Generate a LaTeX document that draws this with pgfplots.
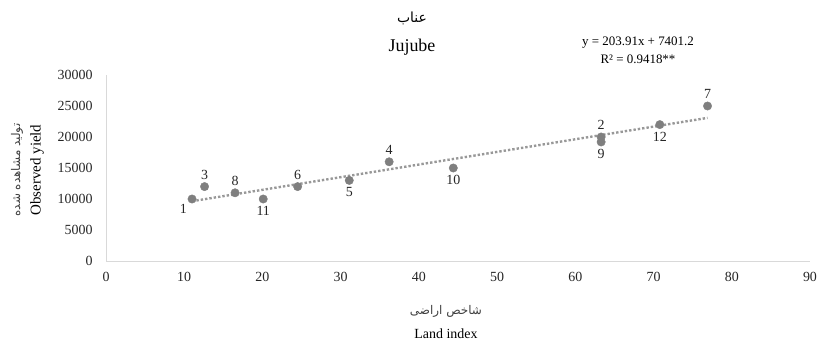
\documentclass[border=0pt]{standalone}
\usepackage{fontspec}
\setmainfont{Liberation Serif}
\newfontfamily\arabicfont[Script=Arabic]{DejaVu Sans}
\TeXXeTstate=1
\usepackage{pgfplots}
\usepackage{pgfplotstable}
\pgfplotsset{compat=1.18}
\definecolor{ptgray}{HTML}{7F7F7F}
\definecolor{axgray}{HTML}{D9D9D9}
\pgfplotstableread{
x y lab
12.6 12000 3
16.5 11000 8
24.5 12000 6
36.2 16000 4
63.3 20000 2
76.9 25000 7
}\abovetable
\pgfplotstableread{
x y lab
20.1 10000 11
31.1 13000 5
44.4 15000 10
63.3 19200 9
70.8 22000 12
}\belowtable
\pgfplotstableread{
x y lab
11.0 10000 1
}\lefttable
\pgfplotstableread{
x y
11.0 9644.2
76.9 23082.2
}\trendtable
\begin{document}
\begin{tikzpicture}
\useasboundingbox (0,0) rectangle (818bp,345bp);
\begin{axis}[
  at={(106bp,84bp)}, anchor=south west,
  scale only axis, width=704bp, height=186bp,
  xmin=0, xmax=90, ymin=0, ymax=30000,
  xtick={0,10,...,90}, ytick={0,5000,...,30000},
  axis x line*=bottom, axis y line*=left,
  axis line style={draw=axgray, line width=1pt},
  major tick length=0pt,
  tick label style={font=\fontsize{14}{16}\selectfont, text=black!85},
  /pgf/number format/assume math mode=true,
  /pgf/number format/1000 sep={},
  scaled y ticks=false,
  xticklabel style={yshift=-8bp},
  yticklabel style={xshift=-10bp},
  clip=false,
  ptstyle/.style={only marks, mark=*, mark size=4.2bp, mark options={draw=ptgray, fill=ptgray},
    point meta=explicit symbolic, nodes near coords={\pgfplotspointmeta}},
]
\addplot[ptgray!80, line width=2.4pt, dotted] table[x=x,y=y] {\trendtable};
\addplot[ptstyle, every node near coord/.append style={anchor=south, inner sep=7bp, font=\fontsize{14}{16}\selectfont, text=black!85}]
  table[x=x, y=y, meta=lab] {\abovetable};
\addplot[ptstyle, every node near coord/.append style={anchor=north, inner sep=7bp, font=\fontsize{14}{16}\selectfont, text=black!85}]
  table[x=x, y=y, meta=lab] {\belowtable};
\addplot[ptstyle, every node near coord/.append style={anchor=north east, inner sep=5bp, font=\fontsize{14}{16}\selectfont, text=black!85}]
  table[x=x, y=y, meta=lab] {\lefttable};
\end{axis}
\node[font=\fontsize{14}{16}\selectfont] at (412bp,327bp) {\arabicfont\beginR عناب\endR};
\node[font=\fontsize{18}{20}\selectfont] at (412bp,298bp) {Jujube};
\node[font=\fontsize{13}{15}\selectfont] at (638bp,302bp) {y = 203.91x + 7401.2};
\node[font=\fontsize{13}{15}\selectfont] at (638bp,286bp) {R² = 0.9418**};
\node[rotate=90, font=\fontsize{12}{14}\selectfont, text=black!75] at (17bp,175bp) {\arabicfont\beginR تولید مشاهده شده\endR};
\node[rotate=90, font=\fontsize{15}{17}\selectfont] at (37bp,175bp) {Observed yield};
\node[font=\fontsize{12}{14}\selectfont, text=black!75] at (446bp,34bp) {\arabicfont\beginR شاخص اراضی\endR};
\node[font=\fontsize{14}{16}\selectfont] at (446bp,11bp) {Land index};
\end{tikzpicture}
\end{document}
